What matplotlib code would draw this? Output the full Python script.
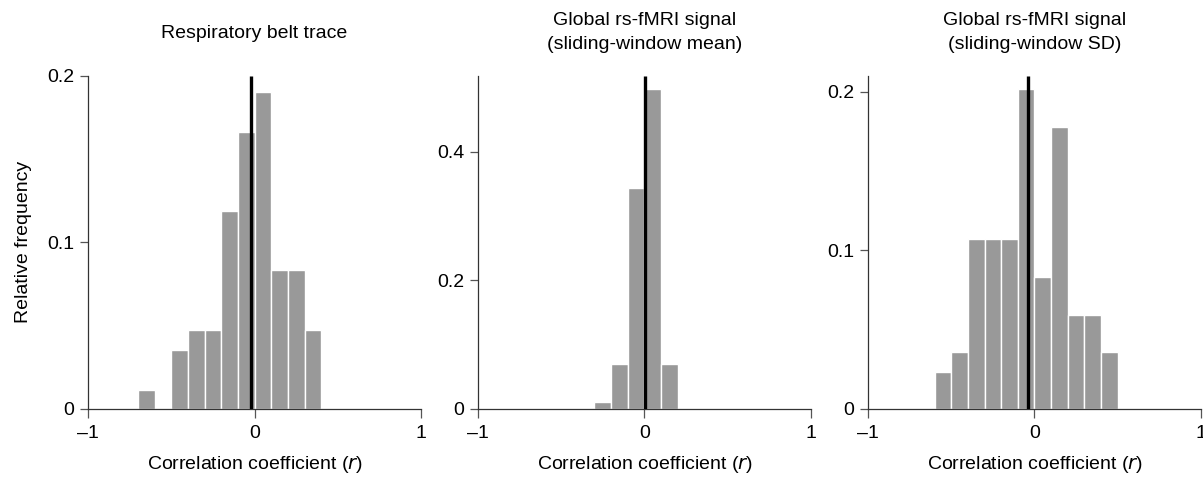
import numpy as np
import matplotlib
matplotlib.use("Agg")
import matplotlib.pyplot as plt

plt.rcParams['font.family'] = ['Liberation Sans', 'DejaVu Sans']
plt.rcParams['font.size'] = 14

# bin left edges and relative frequencies for each panel
resp_edges = [-0.7, -0.6, -0.5, -0.4, -0.3, -0.2, -0.1, 0.0, 0.1, 0.2, 0.3]
resp_freq = [0.0114, 0.0, 0.0355, 0.0475, 0.0475, 0.119, 0.166, 0.190, 0.0832, 0.0832, 0.0475]
resp_median = -0.02

mean_edges = [-0.3, -0.2, -0.1, 0.0, 0.1]
mean_freq = [0.0114, 0.070, 0.343, 0.497, 0.070]
mean_median = 0.005

sd_edges = [-0.6, -0.5, -0.4, -0.3, -0.2, -0.1, 0.0, 0.1, 0.2, 0.3, 0.4]
sd_freq = [0.0236, 0.0357, 0.107, 0.107, 0.107, 0.202, 0.0829, 0.178, 0.0593, 0.0593, 0.0357]
sd_median = -0.038

titles = ["Respiratory belt trace",
          "Global rs-fMRI signal\n(sliding-window mean)",
          "Global rs-fMRI signal\n(sliding-window SD)"]
title_pads = [27, 19, 19]
y_tops = [0.2, 0.518, 0.21]
y_ticks = [[0, 0.1, 0.2], [0, 0.2, 0.4], [0, 0.1, 0.2]]
y_ticklabels = [["0", "0.1", "0.2"], ["0", "0.2", "0.4"], ["0", "0.1", "0.2"]]

panels = [(resp_edges, resp_freq, resp_median),
          (mean_edges, mean_freq, mean_median),
          (sd_edges, sd_freq, sd_median)]
lefts = [0.0732, 0.3973, 0.7215]
width = 0.2768
bottom, top = 0.148, 0.842

fig = plt.figure(figsize=(12.03, 4.8), dpi=100)

for i, (edges, freq, med) in enumerate(panels):
    ax = fig.add_axes([lefts[i], bottom, width, top - bottom])
    ax.bar(edges, freq, width=0.1, align='edge', color='#999999',
           edgecolor='white', linewidth=1.0, zorder=2)
    ax.plot([med, med], [0, y_tops[i]], color='black', lw=2.4, zorder=3,
            solid_capstyle='butt')
    ax.set_xlim(-1, 1)
    ax.set_ylim(0, y_tops[i])
    for s in ['top', 'right']:
        ax.spines[s].set_visible(False)
    for s in ['left', 'bottom']:
        ax.spines[s].set_color('#333333')
        ax.spines[s].set_linewidth(0.9)
    ax.set_xticks([-1, 0, 1])
    ax.set_xticklabels(["\u20131", "0", "1"])
    ax.set_yticks(y_ticks[i])
    ax.set_yticklabels(y_ticklabels[i])
    ax.tick_params(axis='x', direction='out', length=6.5, width=0.9,
                   color='#555555', pad=5, labelsize=14)
    ax.tick_params(axis='y', direction='out', length=6, width=0.9,
                   color='#555555', pad=4, labelsize=14)
    ax.set_xlabel("Correlation coefficient ($\\it{r}$)", fontsize=14, labelpad=9)
    ax.set_title(titles[i], fontsize=14, pad=title_pads[i], linespacing=1.55)
    if i == 0:
        ax.set_ylabel("Relative frequency", fontsize=14)
        ax.yaxis.set_label_coords(-0.168, 0.5)

fig.savefig("out.png", dpi=100)
